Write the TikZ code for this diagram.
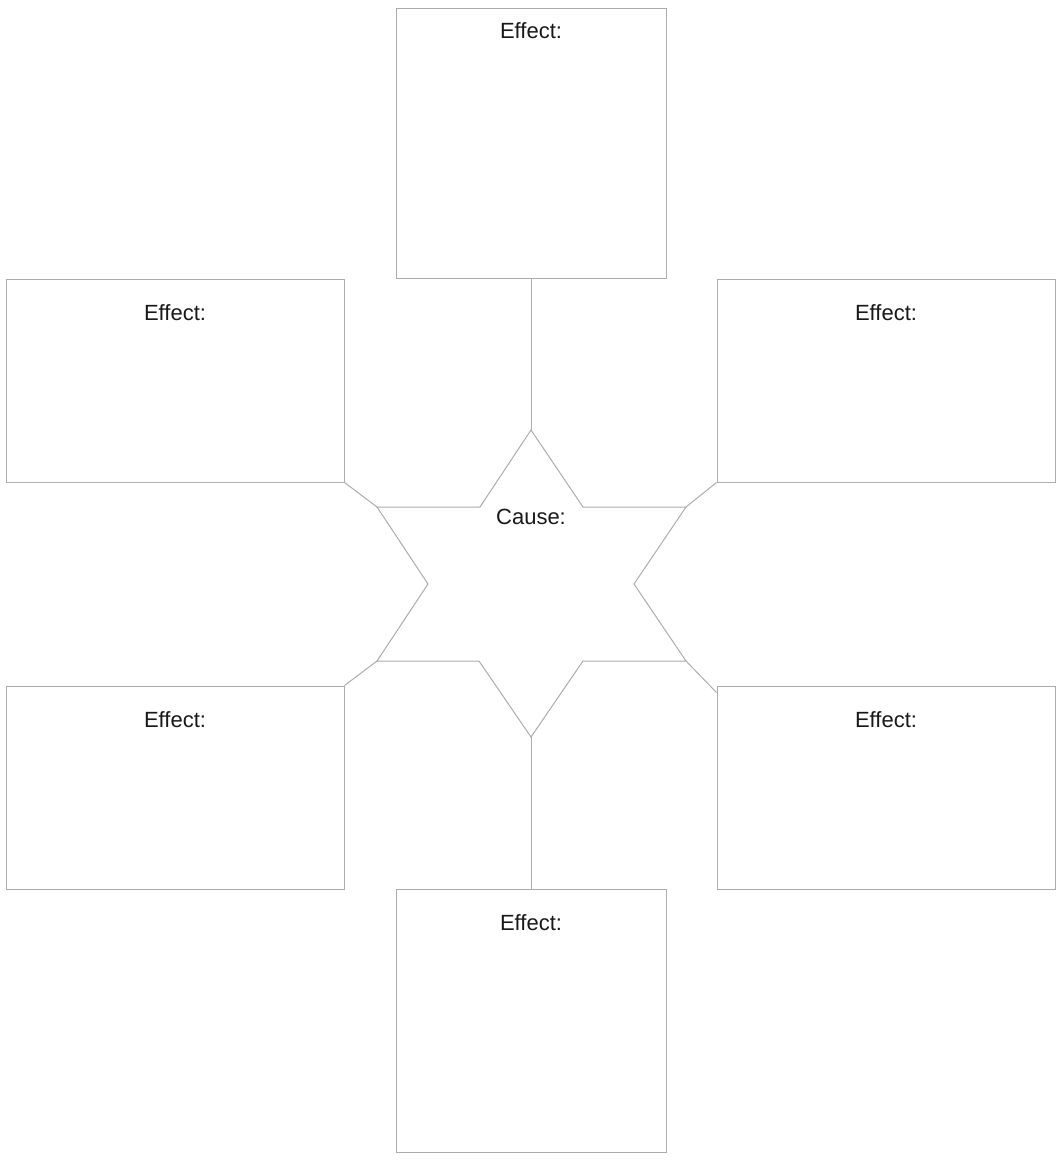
\documentclass[tikz,border=0pt]{standalone}
\usepackage{fontspec}
\setmainfont{Liberation Sans}
\usepackage{tikz}
\usetikzlibrary{positioning}
\definecolor{lineGray}{RGB}{172,172,172}
\definecolor{textInk}{RGB}{25,25,25}

\begin{document}
\begin{tikzpicture}[x=1pt, y=-1pt, line width=1pt,
    effbox/.style={draw=lineGray, inner sep=0pt, minimum width=338pt, minimum height=203pt},
    lbl/.style={anchor=base, inner sep=0pt, text=textInk, font=\fontsize{22}{26}\selectfont},
    link/.style={draw=lineGray}]
  \useasboundingbox (0,0) rectangle (1056,1162);
  % effect boxes
  \node[effbox, minimum width=270pt, minimum height=270pt] (effT) at (531,143) {};
  \node[effbox] (effLU) at (175,380.5) {};
  \node[effbox] (effRU) at (886,380.5) {};
  \node[effbox] (effLL) at (175,787.5) {};
  \node[effbox] (effRL) at (886,787.5) {};
  \node[effbox, minimum width=270pt, minimum height=263pt] (effB) at (531,1020.5) {};
  \node[lbl] (effT-txt) at ([yshift=-31pt]effT.north) {Effect:};
  \foreach \b in {effLU,effRU,effLL,effRL,effB}
    \node[lbl] (\b-txt) at ([yshift=-42pt]\b.north) {Effect:};
  % cause star
  \draw[link] (531,430) coordinate (sT) -- (583,507) -- (686,507) coordinate (sRU)
    -- (634,584) -- (686,661) coordinate (sRL) -- (583,661) -- (531,737) coordinate (sB)
    -- (479,661) -- (377,661) coordinate (sLL) -- (428,584) -- (377,507) coordinate (sLU)
    -- (480,507) -- cycle;
  \node[lbl] (cause) at (531,524) {Cause:};
  % links
  \draw[link] (sT) -- (effT.south);
  \draw[link] (sB) -- (effB.north);
  \draw[link] (sLU) -- (effLU.south east);
  \draw[link] (sRU) -- (effRU.south west);
  \draw[link] (sLL) -- (effLL.north east);
  \draw[link] (sRL) -- ([yshift=-7pt]effRL.north west);
\end{tikzpicture}
\end{document}
